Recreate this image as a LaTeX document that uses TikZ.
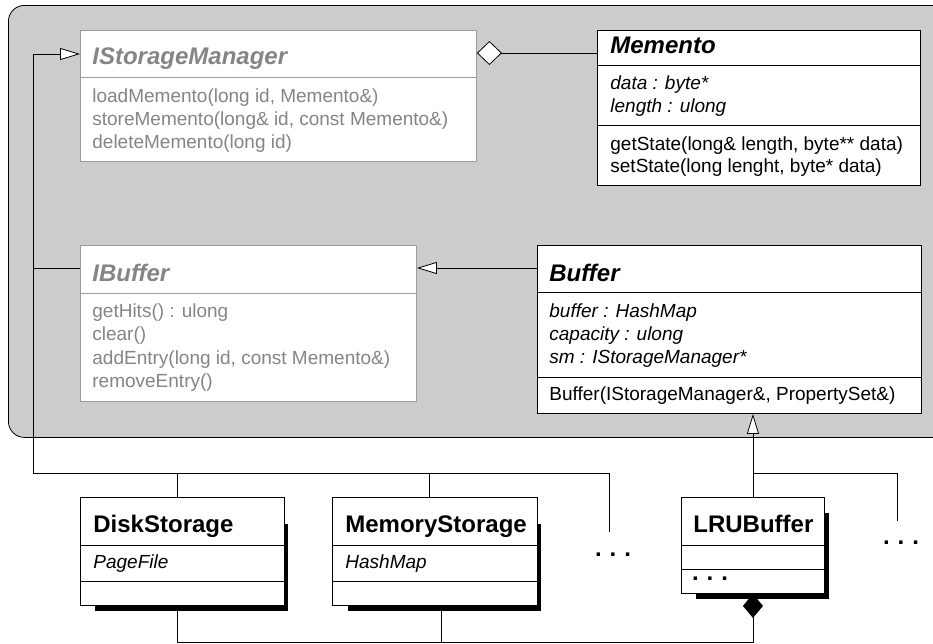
\documentclass[tikz,border=0pt]{standalone}
\usepackage{fontspec}
\setmainfont{Liberation Sans}
\usetikzlibrary{arrows.meta,calc}
\definecolor{panelgray}{HTML}{CCCCCC}
\definecolor{ifline}{HTML}{9C9C9C}
\definecolor{iftext}{HTML}{858585}

\begin{document}
\begin{tikzpicture}[x=1pt, y=-1pt, line width=0.8pt,
    panel/.style={draw, fill=panelgray, rounded corners=16pt, anchor=north west, inner sep=0pt},
    cls/.style={draw, fill=white, anchor=north west, inner sep=0pt, line width=0.9pt},
    iface/.style={cls, draw=ifline},
    txt/.style={inner sep=0pt, anchor=base west, font=\fontsize{19}{23}\selectfont},
    ittxt/.style={txt, font=\fontsize{19}{23}\selectfont\itshape},
    ttl/.style={txt, font=\fontsize{24}{28}\selectfont\bfseries},
    ittl/.style={txt, font=\fontsize{24}{28}\selectfont\bfseries\itshape},
    dots/.style={ttl, anchor=center},
    gen/.style={-{Triangle[open, length=20pt, width=12pt, fill=white]}},
    agg/.style={-{Diamond[open, length=25pt, width=24pt, fill=white]}},
    comp/.style={-{Diamond[length=24pt, width=20pt]}}]
    \useasboundingbox (0,0) rectangle (933,643);
    \node[panel, minimum width=960pt, minimum height=432pt] (panel) at (8,5) {};

    % interfaces
    \node[iface, minimum width=396pt, minimum height=131pt] (ism) at (80,30) {};
    \draw[ifline, line width=0.9pt] (ism.west |- 0,77) -- (ism.east |- 0,77);
    \node[ittl, text=iftext] (ism-name) at (92,64) {IStorageManager};
    \foreach \y/\t [count=\i] in {102.5/{loadMemento(long id, Memento\&)}, 125.5/{storeMemento(long\& id, const Memento\&)}, 148.5/{deleteMemento(long id)}}
        \node[txt, text=iftext] (ism-op\i) at (92,\y) {\t};

    \node[iface, minimum width=336pt, minimum height=156pt] (ibuf) at (80,245) {};
    \draw[ifline, line width=0.9pt] (ibuf.west |- 0,293) -- (ibuf.east |- 0,293);
    \node[ittl, text=iftext] (ibuf-name) at (92,281.5) {IBuffer};
    \foreach \y/\t [count=\i] in {317/{getHits() : ulong}, 340.5/{clear()}, 364/{addEntry(long id, const Memento\&)}, 387.5/{removeEntry()}}
        \node[txt, text=iftext] (ibuf-op\i) at (92,\y) {\t};

    % classes in the panel
    \node[cls, minimum width=323pt, minimum height=155pt] (memento) at (597,30) {};
    \draw[line width=0.9pt] (memento.west |- 0,65) -- (memento.east |- 0,65)
        (memento.west |- 0,125) -- (memento.east |- 0,125);
    \node[ittl] (memento-name) at (610,53) {Memento};
    \node[ittxt] (memento-a1) at (610,89) {data : byte*};
    \node[ittxt] (memento-a2) at (610,112) {length : ulong};
    \node[txt] (memento-op1) at (610,150) {getState(long\& length, byte** data)};
    \node[txt] (memento-op2) at (610,172) {setState(long lenght, byte* data)};

    \node[cls, minimum width=384pt, minimum height=168pt] (buf) at (537,245) {};
    \draw[line width=0.9pt] (buf.west |- 0,292) -- (buf.east |- 0,292)
        (buf.west |- 0,377) -- (buf.east |- 0,377);
    \node[ittl] (buf-name) at (549,281) {Buffer};
    \foreach \y/\t [count=\i] in {317/{buffer : HashMap}, 340/{capacity : ulong}, 363/{sm : IStorageManager*}}
        \node[ittxt] (buf-a\i) at (549,\y) {\t};
    \node[txt] (buf-op1) at (549,400.5) {Buffer(IStorageManager\&, PropertySet\&)};

    % implementations
    \fill (95,524) rectangle (288,611);
    \fill (348,524) rectangle (541,611);
    \fill (696,513) rectangle (829,599);

    \node[cls, minimum width=204pt, minimum height=108pt] (disk) at (80,497) {};
    \draw[line width=0.9pt] (disk.west |- 0,545) -- (disk.east |- 0,545)
        (disk.west |- 0,581) -- (disk.east |- 0,581);
    \node[ttl] (disk-name) at (93,532) {DiskStorage};
    \node[ittxt] (disk-a1) at (93,568) {PageFile};

    \node[cls, minimum width=205pt, minimum height=108pt] (mem) at (332,497) {};
    \draw[line width=0.9pt] (mem.west |- 0,545) -- (mem.east |- 0,545)
        (mem.west |- 0,581) -- (mem.east |- 0,581);
    \node[ttl] (mem-name) at (345,532) {MemoryStorage};
    \node[ittxt] (mem-a1) at (345,568) {HashMap};

    \node[cls, minimum width=143pt, minimum height=96pt] (lru) at (681,497) {};
    \draw[line width=0.9pt] (lru.west |- 0,545) -- (lru.east |- 0,545)
        (lru.west |- 0,569) -- (lru.east |- 0,569);
    \node[ttl] (lru-name) at (693,532) {LRUBuffer};
    \node[dots] (lru-more) at (710,579) {.\hspace{8pt}.\hspace{8pt}.};

    \node[dots] (dots1) at (613,555) {.\hspace{8pt}.\hspace{8pt}.};
    \node[dots] (dots2) at (901,543) {.\hspace{8pt}.\hspace{8pt}.};

    % connectors
    \coordinate (rail) at (33,473);
    \coordinate (ism-in) at ([yshift=-24pt]ism.north west);
    \coordinate (ibuf-in) at ([yshift=-23pt]ibuf.north west);
    \coordinate (memento-out) at ([yshift=-23pt]memento.north west);
    \coordinate (more1) at (609,532);
    \coordinate (more2) at (897,521);

    \draw[gen] (more1) |- (rail) |- (ism-in);
    \draw (rail |- ibuf-in) -- (ibuf-in);
    \draw ([xshift=-5pt]disk.north) -- ++(0,-24);
    \draw ([xshift=-6pt]mem.north) -- ++(0,-24);
    \draw[gen] (buf.west |- ibuf-in) -- (ibuf.east |- ibuf-in);
    \draw[agg] (memento-out) -- (ism.east |- memento-out);
    \draw[gen] (lru.north) -- (lru.north |- buf.south);
    \draw (lru.north |- rail) -| (more2);
    \draw[comp] ([xshift=-5pt]disk.south) |- ($(lru.south)+(0,48)$) -- (lru.south);
    \draw ([xshift=6pt]mem.south) -- ++(0,36);
\end{tikzpicture}
\end{document}
